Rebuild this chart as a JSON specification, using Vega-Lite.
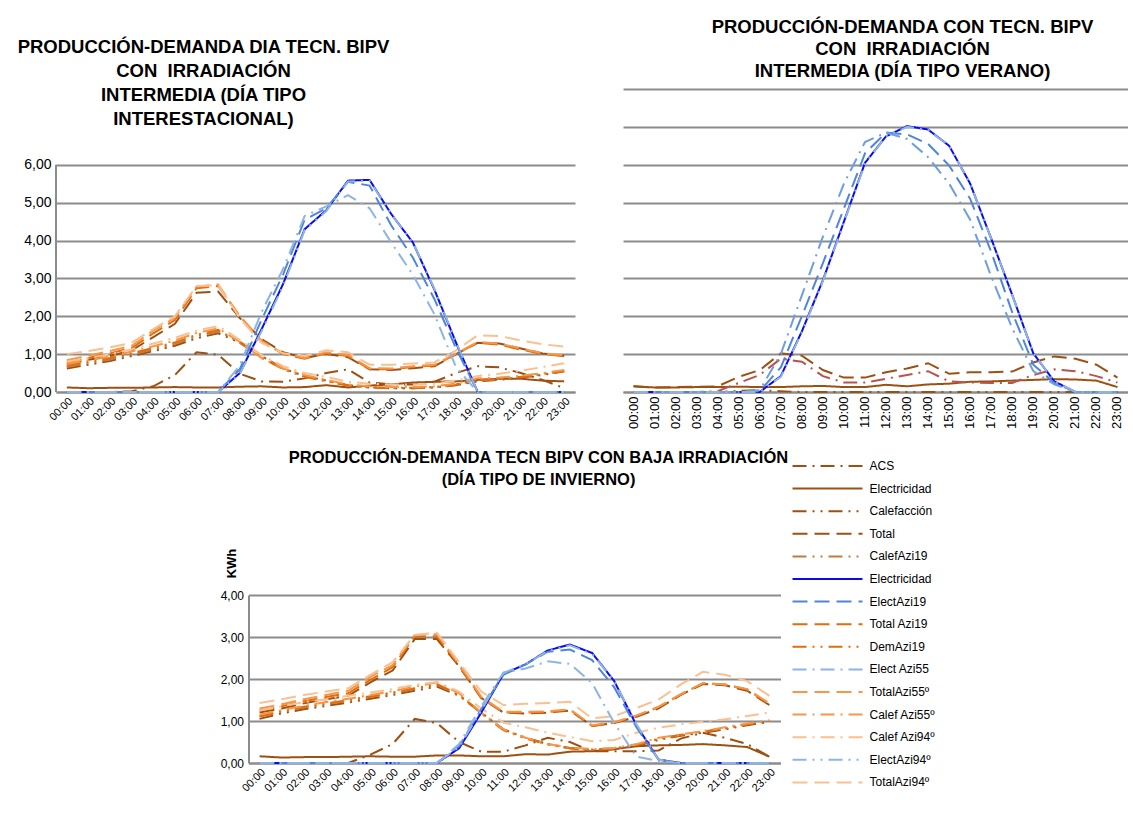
{
"$schema": "https://vega.github.io/schema/vega-lite/v6.json",
"background": "white",
"padding": {"left": 16, "top": 17, "right": 0, "bottom": 0},
"config": {
  "font": "Liberation Sans",
  "view": {"stroke": null},
  "axis": {"labelFont": "Liberation Sans", "labelColor": "#000", "domainColor": "#8c8c8c", "domainWidth": 2, "gridColor": "#8c8c8c", "gridWidth": 2, "ticks": false, "titleFont": "Liberation Sans", "titleColor": "#000"},
  "title": {"font": "Liberation Sans", "fontWeight": "bold", "color": "#000", "anchor": "middle", "frame": "group"},
  "line": {"strokeWidth": 2}
},
"datasets": {
"inter": [
{"s":"ACS","h":0,"v":0},{"s":"ACS","h":1,"v":0},{"s":"ACS","h":2,"v":0},{"s":"ACS","h":3,"v":0.02},{"s":"ACS","h":4,"v":0.15},{"s":"ACS","h":5,"v":0.45},{"s":"ACS","h":6,"v":1.05},{"s":"ACS","h":7,"v":0.98},{"s":"ACS","h":8,"v":0.48},{"s":"ACS","h":9,"v":0.28},{"s":"ACS","h":10,"v":0.27},{"s":"ACS","h":11,"v":0.36},{"s":"ACS","h":12,"v":0.5},{"s":"ACS","h":13,"v":0.6},{"s":"ACS","h":14,"v":0.25},{"s":"ACS","h":15,"v":0.2},{"s":"ACS","h":16,"v":0.2},{"s":"ACS","h":17,"v":0.27},{"s":"ACS","h":18,"v":0.5},{"s":"ACS","h":19,"v":0.68},{"s":"ACS","h":20,"v":0.65},{"s":"ACS","h":21,"v":0.5},{"s":"ACS","h":22,"v":0.32},{"s":"ACS","h":23,"v":0.1},
{"s":"Electricidad","h":0,"v":0.12},{"s":"Electricidad","h":1,"v":0.1},{"s":"Electricidad","h":2,"v":0.11},{"s":"Electricidad","h":3,"v":0.11},{"s":"Electricidad","h":4,"v":0.12},{"s":"Electricidad","h":5,"v":0.13},{"s":"Electricidad","h":6,"v":0.12},{"s":"Electricidad","h":7,"v":0.12},{"s":"Electricidad","h":8,"v":0.14},{"s":"Electricidad","h":9,"v":0.15},{"s":"Electricidad","h":10,"v":0.12},{"s":"Electricidad","h":11,"v":0.13},{"s":"Electricidad","h":12,"v":0.18},{"s":"Electricidad","h":13,"v":0.12},{"s":"Electricidad","h":14,"v":0.17},{"s":"Electricidad","h":15,"v":0.2},{"s":"Electricidad","h":16,"v":0.25},{"s":"Electricidad","h":17,"v":0.27},{"s":"Electricidad","h":18,"v":0.28},{"s":"Electricidad","h":19,"v":0.32},{"s":"Electricidad","h":20,"v":0.35},{"s":"Electricidad","h":21,"v":0.35},{"s":"Electricidad","h":22,"v":0.3},{"s":"Electricidad","h":23,"v":0.28},
{"s":"Calefacción","h":0,"v":0.62},{"s":"Calefacción","h":1,"v":0.72},{"s":"Calefacción","h":2,"v":0.82},{"s":"Calefacción","h":3,"v":0.95},{"s":"Calefacción","h":4,"v":1.08},{"s":"Calefacción","h":5,"v":1.22},{"s":"Calefacción","h":6,"v":1.42},{"s":"Calefacción","h":7,"v":1.55},{"s":"Calefacción","h":8,"v":1.3},{"s":"Calefacción","h":9,"v":0.95},{"s":"Calefacción","h":10,"v":0.62},{"s":"Calefacción","h":11,"v":0.42},{"s":"Calefacción","h":12,"v":0.3},{"s":"Calefacción","h":13,"v":0.18},{"s":"Calefacción","h":14,"v":0.12},{"s":"Calefacción","h":15,"v":0.1},{"s":"Calefacción","h":16,"v":0.1},{"s":"Calefacción","h":17,"v":0.12},{"s":"Calefacción","h":18,"v":0.18},{"s":"Calefacción","h":19,"v":0.28},{"s":"Calefacción","h":20,"v":0.32},{"s":"Calefacción","h":21,"v":0.38},{"s":"Calefacción","h":22,"v":0.45},{"s":"Calefacción","h":23,"v":0.55},
{"s":"Total","h":0,"v":0.72},{"s":"Total","h":1,"v":0.85},{"s":"Total","h":2,"v":0.95},{"s":"Total","h":3,"v":1.1},{"s":"Total","h":4,"v":1.45},{"s":"Total","h":5,"v":1.8},{"s":"Total","h":6,"v":2.62},{"s":"Total","h":7,"v":2.65},{"s":"Total","h":8,"v":1.95},{"s":"Total","h":9,"v":1.4},{"s":"Total","h":10,"v":1.05},{"s":"Total","h":11,"v":0.9},{"s":"Total","h":12,"v":1.0},{"s":"Total","h":13,"v":0.92},{"s":"Total","h":14,"v":0.6},{"s":"Total","h":15,"v":0.58},{"s":"Total","h":16,"v":0.63},{"s":"Total","h":17,"v":0.68},{"s":"Total","h":18,"v":1.0},{"s":"Total","h":19,"v":1.3},{"s":"Total","h":20,"v":1.28},{"s":"Total","h":21,"v":1.15},{"s":"Total","h":22,"v":1.02},{"s":"Total","h":23,"v":0.95},
{"s":"CalefAzi19","h":0,"v":0.66},{"s":"CalefAzi19","h":1,"v":0.76},{"s":"CalefAzi19","h":2,"v":0.86},{"s":"CalefAzi19","h":3,"v":0.99},{"s":"CalefAzi19","h":4,"v":1.12},{"s":"CalefAzi19","h":5,"v":1.27},{"s":"CalefAzi19","h":6,"v":1.47},{"s":"CalefAzi19","h":7,"v":1.6},{"s":"CalefAzi19","h":8,"v":1.33},{"s":"CalefAzi19","h":9,"v":0.95},{"s":"CalefAzi19","h":10,"v":0.62},{"s":"CalefAzi19","h":11,"v":0.42},{"s":"CalefAzi19","h":12,"v":0.3},{"s":"CalefAzi19","h":13,"v":0.18},{"s":"CalefAzi19","h":14,"v":0.12},{"s":"CalefAzi19","h":15,"v":0.1},{"s":"CalefAzi19","h":16,"v":0.1},{"s":"CalefAzi19","h":17,"v":0.12},{"s":"CalefAzi19","h":18,"v":0.19},{"s":"CalefAzi19","h":19,"v":0.3},{"s":"CalefAzi19","h":20,"v":0.33},{"s":"CalefAzi19","h":21,"v":0.39},{"s":"CalefAzi19","h":22,"v":0.47},{"s":"CalefAzi19","h":23,"v":0.56},
{"s":"Total Azi19","h":0,"v":0.78},{"s":"Total Azi19","h":1,"v":0.9},{"s":"Total Azi19","h":2,"v":1.02},{"s":"Total Azi19","h":3,"v":1.16},{"s":"Total Azi19","h":4,"v":1.55},{"s":"Total Azi19","h":5,"v":1.9},{"s":"Total Azi19","h":6,"v":2.74},{"s":"Total Azi19","h":7,"v":2.8},{"s":"Total Azi19","h":8,"v":2.0},{"s":"Total Azi19","h":9,"v":1.35},{"s":"Total Azi19","h":10,"v":1.0},{"s":"Total Azi19","h":11,"v":0.88},{"s":"Total Azi19","h":12,"v":1.02},{"s":"Total Azi19","h":13,"v":0.95},{"s":"Total Azi19","h":14,"v":0.6},{"s":"Total Azi19","h":15,"v":0.6},{"s":"Total Azi19","h":16,"v":0.66},{"s":"Total Azi19","h":17,"v":0.7},{"s":"Total Azi19","h":18,"v":1.0},{"s":"Total Azi19","h":19,"v":1.3},{"s":"Total Azi19","h":20,"v":1.25},{"s":"Total Azi19","h":21,"v":1.12},{"s":"Total Azi19","h":22,"v":1.0},{"s":"Total Azi19","h":23,"v":0.95},
{"s":"DemAzi19","h":0,"v":0.7},{"s":"DemAzi19","h":1,"v":0.8},{"s":"DemAzi19","h":2,"v":0.9},{"s":"DemAzi19","h":3,"v":1.03},{"s":"DemAzi19","h":4,"v":1.16},{"s":"DemAzi19","h":5,"v":1.31},{"s":"DemAzi19","h":6,"v":1.51},{"s":"DemAzi19","h":7,"v":1.64},{"s":"DemAzi19","h":8,"v":1.3},{"s":"DemAzi19","h":9,"v":0.9},{"s":"DemAzi19","h":10,"v":0.6},{"s":"DemAzi19","h":11,"v":0.4},{"s":"DemAzi19","h":12,"v":0.28},{"s":"DemAzi19","h":13,"v":0.17},{"s":"DemAzi19","h":14,"v":0.12},{"s":"DemAzi19","h":15,"v":0.11},{"s":"DemAzi19","h":16,"v":0.11},{"s":"DemAzi19","h":17,"v":0.13},{"s":"DemAzi19","h":18,"v":0.2},{"s":"DemAzi19","h":19,"v":0.32},{"s":"DemAzi19","h":20,"v":0.34},{"s":"DemAzi19","h":21,"v":0.4},{"s":"DemAzi19","h":22,"v":0.48},{"s":"DemAzi19","h":23,"v":0.55},
{"s":"TotalAzi55º","h":0,"v":0.84},{"s":"TotalAzi55º","h":1,"v":0.96},{"s":"TotalAzi55º","h":2,"v":1.08},{"s":"TotalAzi55º","h":3,"v":1.22},{"s":"TotalAzi55º","h":4,"v":1.62},{"s":"TotalAzi55º","h":5,"v":1.96},{"s":"TotalAzi55º","h":6,"v":2.78},{"s":"TotalAzi55º","h":7,"v":2.84},{"s":"TotalAzi55º","h":8,"v":2.0},{"s":"TotalAzi55º","h":9,"v":1.35},{"s":"TotalAzi55º","h":10,"v":1.02},{"s":"TotalAzi55º","h":11,"v":0.9},{"s":"TotalAzi55º","h":12,"v":1.05},{"s":"TotalAzi55º","h":13,"v":0.98},{"s":"TotalAzi55º","h":14,"v":0.63},{"s":"TotalAzi55º","h":15,"v":0.62},{"s":"TotalAzi55º","h":16,"v":0.68},{"s":"TotalAzi55º","h":17,"v":0.72},{"s":"TotalAzi55º","h":18,"v":1.02},{"s":"TotalAzi55º","h":19,"v":1.32},{"s":"TotalAzi55º","h":20,"v":1.28},{"s":"TotalAzi55º","h":21,"v":1.15},{"s":"TotalAzi55º","h":22,"v":1.02},{"s":"TotalAzi55º","h":23,"v":0.97},
{"s":"Calef Azi55º","h":0,"v":0.74},{"s":"Calef Azi55º","h":1,"v":0.84},{"s":"Calef Azi55º","h":2,"v":0.94},{"s":"Calef Azi55º","h":3,"v":1.07},{"s":"Calef Azi55º","h":4,"v":1.21},{"s":"Calef Azi55º","h":5,"v":1.36},{"s":"Calef Azi55º","h":6,"v":1.56},{"s":"Calef Azi55º","h":7,"v":1.68},{"s":"Calef Azi55º","h":8,"v":1.32},{"s":"Calef Azi55º","h":9,"v":0.9},{"s":"Calef Azi55º","h":10,"v":0.62},{"s":"Calef Azi55º","h":11,"v":0.45},{"s":"Calef Azi55º","h":12,"v":0.32},{"s":"Calef Azi55º","h":13,"v":0.2},{"s":"Calef Azi55º","h":14,"v":0.15},{"s":"Calef Azi55º","h":15,"v":0.13},{"s":"Calef Azi55º","h":16,"v":0.13},{"s":"Calef Azi55º","h":17,"v":0.15},{"s":"Calef Azi55º","h":18,"v":0.22},{"s":"Calef Azi55º","h":19,"v":0.36},{"s":"Calef Azi55º","h":20,"v":0.38},{"s":"Calef Azi55º","h":21,"v":0.43},{"s":"Calef Azi55º","h":22,"v":0.5},{"s":"Calef Azi55º","h":23,"v":0.58},
{"s":"Calef Azi94º","h":0,"v":0.8},{"s":"Calef Azi94º","h":1,"v":0.9},{"s":"Calef Azi94º","h":2,"v":1.0},{"s":"Calef Azi94º","h":3,"v":1.13},{"s":"Calef Azi94º","h":4,"v":1.28},{"s":"Calef Azi94º","h":5,"v":1.43},{"s":"Calef Azi94º","h":6,"v":1.62},{"s":"Calef Azi94º","h":7,"v":1.74},{"s":"Calef Azi94º","h":8,"v":1.38},{"s":"Calef Azi94º","h":9,"v":0.98},{"s":"Calef Azi94º","h":10,"v":0.68},{"s":"Calef Azi94º","h":11,"v":0.5},{"s":"Calef Azi94º","h":12,"v":0.4},{"s":"Calef Azi94º","h":13,"v":0.27},{"s":"Calef Azi94º","h":14,"v":0.22},{"s":"Calef Azi94º","h":15,"v":0.2},{"s":"Calef Azi94º","h":16,"v":0.2},{"s":"Calef Azi94º","h":17,"v":0.22},{"s":"Calef Azi94º","h":18,"v":0.3},{"s":"Calef Azi94º","h":19,"v":0.42},{"s":"Calef Azi94º","h":20,"v":0.48},{"s":"Calef Azi94º","h":21,"v":0.56},{"s":"Calef Azi94º","h":22,"v":0.66},{"s":"Calef Azi94º","h":23,"v":0.76},
{"s":"TotalAzi94º","h":0,"v":1.0},{"s":"TotalAzi94º","h":1,"v":1.08},{"s":"TotalAzi94º","h":2,"v":1.18},{"s":"TotalAzi94º","h":3,"v":1.3},{"s":"TotalAzi94º","h":4,"v":1.66},{"s":"TotalAzi94º","h":5,"v":2.0},{"s":"TotalAzi94º","h":6,"v":2.8},{"s":"TotalAzi94º","h":7,"v":2.82},{"s":"TotalAzi94º","h":8,"v":1.95},{"s":"TotalAzi94º","h":9,"v":1.3},{"s":"TotalAzi94º","h":10,"v":1.02},{"s":"TotalAzi94º","h":11,"v":0.96},{"s":"TotalAzi94º","h":12,"v":1.1},{"s":"TotalAzi94º","h":13,"v":1.05},{"s":"TotalAzi94º","h":14,"v":0.72},{"s":"TotalAzi94º","h":15,"v":0.72},{"s":"TotalAzi94º","h":16,"v":0.75},{"s":"TotalAzi94º","h":17,"v":0.78},{"s":"TotalAzi94º","h":18,"v":1.1},{"s":"TotalAzi94º","h":19,"v":1.5},{"s":"TotalAzi94º","h":20,"v":1.48},{"s":"TotalAzi94º","h":21,"v":1.36},{"s":"TotalAzi94º","h":22,"v":1.26},{"s":"TotalAzi94º","h":23,"v":1.2},
{"s":"Electricidad ","h":0,"v":0},{"s":"Electricidad ","h":1,"v":0},{"s":"Electricidad ","h":2,"v":0},{"s":"Electricidad ","h":3,"v":0},{"s":"Electricidad ","h":4,"v":0},{"s":"Electricidad ","h":5,"v":0},{"s":"Electricidad ","h":6,"v":0},{"s":"Electricidad ","h":7,"v":0},{"s":"Electricidad ","h":8,"v":0.5},{"s":"Electricidad ","h":9,"v":1.65},{"s":"Electricidad ","h":10,"v":2.85},{"s":"Electricidad ","h":11,"v":4.3},{"s":"Electricidad ","h":12,"v":4.8},{"s":"Electricidad ","h":13,"v":5.58},{"s":"Electricidad ","h":14,"v":5.6},{"s":"Electricidad ","h":15,"v":4.7},{"s":"Electricidad ","h":16,"v":3.95},{"s":"Electricidad ","h":17,"v":2.7},{"s":"Electricidad ","h":18,"v":1.3},{"s":"Electricidad ","h":19,"v":0},{"s":"Electricidad ","h":20,"v":0},{"s":"Electricidad ","h":21,"v":0},{"s":"Electricidad ","h":22,"v":0},{"s":"Electricidad ","h":23,"v":0},
{"s":"ElectAzi19","h":0,"v":0},{"s":"ElectAzi19","h":1,"v":0},{"s":"ElectAzi19","h":2,"v":0},{"s":"ElectAzi19","h":3,"v":0},{"s":"ElectAzi19","h":4,"v":0},{"s":"ElectAzi19","h":5,"v":0},{"s":"ElectAzi19","h":6,"v":0},{"s":"ElectAzi19","h":7,"v":0},{"s":"ElectAzi19","h":8,"v":0.6},{"s":"ElectAzi19","h":9,"v":1.9},{"s":"ElectAzi19","h":10,"v":3.1},{"s":"ElectAzi19","h":11,"v":4.55},{"s":"ElectAzi19","h":12,"v":4.85},{"s":"ElectAzi19","h":13,"v":5.55},{"s":"ElectAzi19","h":14,"v":5.45},{"s":"ElectAzi19","h":15,"v":4.4},{"s":"ElectAzi19","h":16,"v":3.55},{"s":"ElectAzi19","h":17,"v":2.45},{"s":"ElectAzi19","h":18,"v":1.15},{"s":"ElectAzi19","h":19,"v":0},{"s":"ElectAzi19","h":20,"v":0},{"s":"ElectAzi19","h":21,"v":0},{"s":"ElectAzi19","h":22,"v":0},{"s":"ElectAzi19","h":23,"v":0},
{"s":"Elect Azi55","h":0,"v":0},{"s":"Elect Azi55","h":1,"v":0},{"s":"Elect Azi55","h":2,"v":0},{"s":"Elect Azi55","h":3,"v":0},{"s":"Elect Azi55","h":4,"v":0},{"s":"Elect Azi55","h":5,"v":0},{"s":"Elect Azi55","h":6,"v":0},{"s":"Elect Azi55","h":7,"v":0},{"s":"Elect Azi55","h":8,"v":0.7},{"s":"Elect Azi55","h":9,"v":2.1},{"s":"Elect Azi55","h":10,"v":3.25},{"s":"Elect Azi55","h":11,"v":4.65},{"s":"Elect Azi55","h":12,"v":4.9},{"s":"Elect Azi55","h":13,"v":5.2},{"s":"Elect Azi55","h":14,"v":4.85},{"s":"Elect Azi55","h":15,"v":3.95},{"s":"Elect Azi55","h":16,"v":3.1},{"s":"Elect Azi55","h":17,"v":2.05},{"s":"Elect Azi55","h":18,"v":0.65},{"s":"Elect Azi55","h":19,"v":0},{"s":"Elect Azi55","h":20,"v":0},{"s":"Elect Azi55","h":21,"v":0},{"s":"Elect Azi55","h":22,"v":0},{"s":"Elect Azi55","h":23,"v":0},
{"s":"ElectAzi94º","h":0,"v":0},{"s":"ElectAzi94º","h":1,"v":0},{"s":"ElectAzi94º","h":2,"v":0},{"s":"ElectAzi94º","h":3,"v":0},{"s":"ElectAzi94º","h":4,"v":0},{"s":"ElectAzi94º","h":5,"v":0},{"s":"ElectAzi94º","h":6,"v":0},{"s":"ElectAzi94º","h":7,"v":0},{"s":"ElectAzi94º","h":8,"v":0.48},{"s":"ElectAzi94º","h":9,"v":1.6},{"s":"ElectAzi94º","h":10,"v":2.8},{"s":"ElectAzi94º","h":11,"v":4.28},{"s":"ElectAzi94º","h":12,"v":4.78},{"s":"ElectAzi94º","h":13,"v":5.56},{"s":"ElectAzi94º","h":14,"v":5.58},{"s":"ElectAzi94º","h":15,"v":4.7},{"s":"ElectAzi94º","h":16,"v":3.95},{"s":"ElectAzi94º","h":17,"v":2.72},{"s":"ElectAzi94º","h":18,"v":1.32},{"s":"ElectAzi94º","h":19,"v":0},{"s":"ElectAzi94º","h":20,"v":0},{"s":"ElectAzi94º","h":21,"v":0},{"s":"ElectAzi94º","h":22,"v":0},{"s":"ElectAzi94º","h":23,"v":0}
],
"verano": [
{"s":"Electricidad","h":0,"v":0.15},{"s":"Electricidad","h":1,"v":0.12},{"s":"Electricidad","h":2,"v":0.12},{"s":"Electricidad","h":3,"v":0.13},{"s":"Electricidad","h":4,"v":0.13},{"s":"Electricidad","h":5,"v":0.14},{"s":"Electricidad","h":6,"v":0.13},{"s":"Electricidad","h":7,"v":0.13},{"s":"Electricidad","h":8,"v":0.15},{"s":"Electricidad","h":9,"v":0.16},{"s":"Electricidad","h":10,"v":0.13},{"s":"Electricidad","h":11,"v":0.13},{"s":"Electricidad","h":12,"v":0.19},{"s":"Electricidad","h":13,"v":0.15},{"s":"Electricidad","h":14,"v":0.2},{"s":"Electricidad","h":15,"v":0.22},{"s":"Electricidad","h":16,"v":0.27},{"s":"Electricidad","h":17,"v":0.28},{"s":"Electricidad","h":18,"v":0.3},{"s":"Electricidad","h":19,"v":0.32},{"s":"Electricidad","h":20,"v":0.34},{"s":"Electricidad","h":21,"v":0.33},{"s":"Electricidad","h":22,"v":0.3},{"s":"Electricidad","h":23,"v":0.13},
{"s":"Calefacción","h":0,"v":0},{"s":"Calefacción","h":1,"v":0},{"s":"Calefacción","h":2,"v":0},{"s":"Calefacción","h":3,"v":0},{"s":"Calefacción","h":4,"v":0},{"s":"Calefacción","h":5,"v":0.03},{"s":"Calefacción","h":6,"v":0.05},{"s":"Calefacción","h":7,"v":0.02},{"s":"Calefacción","h":8,"v":0},{"s":"Calefacción","h":9,"v":0},{"s":"Calefacción","h":10,"v":0},{"s":"Calefacción","h":11,"v":0},{"s":"Calefacción","h":12,"v":0},{"s":"Calefacción","h":13,"v":0},{"s":"Calefacción","h":14,"v":0},{"s":"Calefacción","h":15,"v":0},{"s":"Calefacción","h":16,"v":0},{"s":"Calefacción","h":17,"v":0},{"s":"Calefacción","h":18,"v":0},{"s":"Calefacción","h":19,"v":0},{"s":"Calefacción","h":20,"v":0},{"s":"Calefacción","h":21,"v":0},{"s":"Calefacción","h":22,"v":0},{"s":"Calefacción","h":23,"v":0},
{"s":"ACS","h":0,"v":0},{"s":"ACS","h":1,"v":0},{"s":"ACS","h":2,"v":0},{"s":"ACS","h":3,"v":0},{"s":"ACS","h":4,"v":0.02},{"s":"ACS","h":5,"v":0.24},{"s":"ACS","h":6,"v":0.45},{"s":"ACS","h":7,"v":0.88},{"s":"ACS","h":8,"v":0.8},{"s":"ACS","h":9,"v":0.42},{"s":"ACS","h":10,"v":0.25},{"s":"ACS","h":11,"v":0.25},{"s":"ACS","h":12,"v":0.35},{"s":"ACS","h":13,"v":0.45},{"s":"ACS","h":14,"v":0.55},{"s":"ACS","h":15,"v":0.28},{"s":"ACS","h":16,"v":0.25},{"s":"ACS","h":17,"v":0.24},{"s":"ACS","h":18,"v":0.24},{"s":"ACS","h":19,"v":0.45},{"s":"ACS","h":20,"v":0.6},{"s":"ACS","h":21,"v":0.55},{"s":"ACS","h":22,"v":0.42},{"s":"ACS","h":23,"v":0.25},
{"s":"Total","h":0,"v":0.15},{"s":"Total","h":1,"v":0.12},{"s":"Total","h":2,"v":0.13},{"s":"Total","h":3,"v":0.14},{"s":"Total","h":4,"v":0.15},{"s":"Total","h":5,"v":0.4},{"s":"Total","h":6,"v":0.58},{"s":"Total","h":7,"v":1.02},{"s":"Total","h":8,"v":0.96},{"s":"Total","h":9,"v":0.58},{"s":"Total","h":10,"v":0.38},{"s":"Total","h":11,"v":0.38},{"s":"Total","h":12,"v":0.52},{"s":"Total","h":13,"v":0.62},{"s":"Total","h":14,"v":0.76},{"s":"Total","h":15,"v":0.48},{"s":"Total","h":16,"v":0.52},{"s":"Total","h":17,"v":0.52},{"s":"Total","h":18,"v":0.54},{"s":"Total","h":19,"v":0.78},{"s":"Total","h":20,"v":0.94},{"s":"Total","h":21,"v":0.88},{"s":"Total","h":22,"v":0.72},{"s":"Total","h":23,"v":0.38},
{"s":"Electricidad ","h":0,"v":0},{"s":"Electricidad ","h":1,"v":0},{"s":"Electricidad ","h":2,"v":0},{"s":"Electricidad ","h":3,"v":0},{"s":"Electricidad ","h":4,"v":0},{"s":"Electricidad ","h":5,"v":0},{"s":"Electricidad ","h":6,"v":0},{"s":"Electricidad ","h":7,"v":0.42},{"s":"Electricidad ","h":8,"v":1.6},{"s":"Electricidad ","h":9,"v":2.95},{"s":"Electricidad ","h":10,"v":4.5},{"s":"Electricidad ","h":11,"v":6.05},{"s":"Electricidad ","h":12,"v":6.75},{"s":"Electricidad ","h":13,"v":7.02},{"s":"Electricidad ","h":14,"v":6.93},{"s":"Electricidad ","h":15,"v":6.5},{"s":"Electricidad ","h":16,"v":5.5},{"s":"Electricidad ","h":17,"v":4.05},{"s":"Electricidad ","h":18,"v":2.56},{"s":"Electricidad ","h":19,"v":1.02},{"s":"Electricidad ","h":20,"v":0.28},{"s":"Electricidad ","h":21,"v":0},{"s":"Electricidad ","h":22,"v":0},{"s":"Electricidad ","h":23,"v":0},
{"s":"ElectAzi19","h":0,"v":0},{"s":"ElectAzi19","h":1,"v":0},{"s":"ElectAzi19","h":2,"v":0},{"s":"ElectAzi19","h":3,"v":0},{"s":"ElectAzi19","h":4,"v":0},{"s":"ElectAzi19","h":5,"v":0},{"s":"ElectAzi19","h":6,"v":0.02},{"s":"ElectAzi19","h":7,"v":0.65},{"s":"ElectAzi19","h":8,"v":2.0},{"s":"ElectAzi19","h":9,"v":3.4},{"s":"ElectAzi19","h":10,"v":4.85},{"s":"ElectAzi19","h":11,"v":6.3},{"s":"ElectAzi19","h":12,"v":6.85},{"s":"ElectAzi19","h":13,"v":6.8},{"s":"ElectAzi19","h":14,"v":6.55},{"s":"ElectAzi19","h":15,"v":5.98},{"s":"ElectAzi19","h":16,"v":5.1},{"s":"ElectAzi19","h":17,"v":3.7},{"s":"ElectAzi19","h":18,"v":2.1},{"s":"ElectAzi19","h":19,"v":0.72},{"s":"ElectAzi19","h":20,"v":0.24},{"s":"ElectAzi19","h":21,"v":0},{"s":"ElectAzi19","h":22,"v":0},{"s":"ElectAzi19","h":23,"v":0},
{"s":"Elect Azi55","h":0,"v":0},{"s":"Elect Azi55","h":1,"v":0},{"s":"Elect Azi55","h":2,"v":0},{"s":"Elect Azi55","h":3,"v":0},{"s":"Elect Azi55","h":4,"v":0},{"s":"Elect Azi55","h":5,"v":0},{"s":"Elect Azi55","h":6,"v":0.05},{"s":"Elect Azi55","h":7,"v":1.0},{"s":"Elect Azi55","h":8,"v":2.55},{"s":"Elect Azi55","h":9,"v":4.1},{"s":"Elect Azi55","h":10,"v":5.5},{"s":"Elect Azi55","h":11,"v":6.6},{"s":"Elect Azi55","h":12,"v":6.85},{"s":"Elect Azi55","h":13,"v":6.68},{"s":"Elect Azi55","h":14,"v":6.2},{"s":"Elect Azi55","h":15,"v":5.5},{"s":"Elect Azi55","h":16,"v":4.55},{"s":"Elect Azi55","h":17,"v":3.05},{"s":"Elect Azi55","h":18,"v":1.68},{"s":"Elect Azi55","h":19,"v":0.55},{"s":"Elect Azi55","h":20,"v":0.2},{"s":"Elect Azi55","h":21,"v":0},{"s":"Elect Azi55","h":22,"v":0},{"s":"Elect Azi55","h":23,"v":0},
{"s":"ElectAzi94º","h":0,"v":0},{"s":"ElectAzi94º","h":1,"v":0},{"s":"ElectAzi94º","h":2,"v":0},{"s":"ElectAzi94º","h":3,"v":0},{"s":"ElectAzi94º","h":4,"v":0},{"s":"ElectAzi94º","h":5,"v":0},{"s":"ElectAzi94º","h":6,"v":0},{"s":"ElectAzi94º","h":7,"v":0.4},{"s":"ElectAzi94º","h":8,"v":1.58},{"s":"ElectAzi94º","h":9,"v":2.93},{"s":"ElectAzi94º","h":10,"v":4.48},{"s":"ElectAzi94º","h":11,"v":6.03},{"s":"ElectAzi94º","h":12,"v":6.75},{"s":"ElectAzi94º","h":13,"v":7.0},{"s":"ElectAzi94º","h":14,"v":6.92},{"s":"ElectAzi94º","h":15,"v":6.5},{"s":"ElectAzi94º","h":16,"v":5.5},{"s":"ElectAzi94º","h":17,"v":4.05},{"s":"ElectAzi94º","h":18,"v":2.56},{"s":"ElectAzi94º","h":19,"v":1.02},{"s":"ElectAzi94º","h":20,"v":0.28},{"s":"ElectAzi94º","h":21,"v":0},{"s":"ElectAzi94º","h":22,"v":0},{"s":"ElectAzi94º","h":23,"v":0}
],
"invierno": [
{"s":"ACS","h":0,"v":0},{"s":"ACS","h":1,"v":0},{"s":"ACS","h":2,"v":0},{"s":"ACS","h":3,"v":0},{"s":"ACS","h":4,"v":0},{"s":"ACS","h":5,"v":0.2},{"s":"ACS","h":6,"v":0.45},{"s":"ACS","h":7,"v":1.05},{"s":"ACS","h":8,"v":0.95},{"s":"ACS","h":9,"v":0.5},{"s":"ACS","h":10,"v":0.27},{"s":"ACS","h":11,"v":0.27},{"s":"ACS","h":12,"v":0.42},{"s":"ACS","h":13,"v":0.6},{"s":"ACS","h":14,"v":0.5},{"s":"ACS","h":15,"v":0.28},{"s":"ACS","h":16,"v":0.28},{"s":"ACS","h":17,"v":0.28},{"s":"ACS","h":18,"v":0.3},{"s":"ACS","h":19,"v":0.58},{"s":"ACS","h":20,"v":0.72},{"s":"ACS","h":21,"v":0.6},{"s":"ACS","h":22,"v":0.45},{"s":"ACS","h":23,"v":0.15},
{"s":"Electricidad","h":0,"v":0.16},{"s":"Electricidad","h":1,"v":0.13},{"s":"Electricidad","h":2,"v":0.14},{"s":"Electricidad","h":3,"v":0.14},{"s":"Electricidad","h":4,"v":0.15},{"s":"Electricidad","h":5,"v":0.16},{"s":"Electricidad","h":6,"v":0.15},{"s":"Electricidad","h":7,"v":0.15},{"s":"Electricidad","h":8,"v":0.18},{"s":"Electricidad","h":9,"v":0.18},{"s":"Electricidad","h":10,"v":0.16},{"s":"Electricidad","h":11,"v":0.16},{"s":"Electricidad","h":12,"v":0.21},{"s":"Electricidad","h":13,"v":0.2},{"s":"Electricidad","h":14,"v":0.27},{"s":"Electricidad","h":15,"v":0.28},{"s":"Electricidad","h":16,"v":0.33},{"s":"Electricidad","h":17,"v":0.4},{"s":"Electricidad","h":18,"v":0.42},{"s":"Electricidad","h":19,"v":0.43},{"s":"Electricidad","h":20,"v":0.45},{"s":"Electricidad","h":21,"v":0.42},{"s":"Electricidad","h":22,"v":0.38},{"s":"Electricidad","h":23,"v":0.15},
{"s":"Calefacción","h":0,"v":1.05},{"s":"Calefacción","h":1,"v":1.18},{"s":"Calefacción","h":2,"v":1.28},{"s":"Calefacción","h":3,"v":1.36},{"s":"Calefacción","h":4,"v":1.44},{"s":"Calefacción","h":5,"v":1.53},{"s":"Calefacción","h":6,"v":1.62},{"s":"Calefacción","h":7,"v":1.72},{"s":"Calefacción","h":8,"v":1.82},{"s":"Calefacción","h":9,"v":1.6},{"s":"Calefacción","h":10,"v":1.2},{"s":"Calefacción","h":11,"v":0.8},{"s":"Calefacción","h":12,"v":0.6},{"s":"Calefacción","h":13,"v":0.45},{"s":"Calefacción","h":14,"v":0.35},{"s":"Calefacción","h":15,"v":0.3},{"s":"Calefacción","h":16,"v":0.33},{"s":"Calefacción","h":17,"v":0.4},{"s":"Calefacción","h":18,"v":0.55},{"s":"Calefacción","h":19,"v":0.65},{"s":"Calefacción","h":20,"v":0.72},{"s":"Calefacción","h":21,"v":0.8},{"s":"Calefacción","h":22,"v":0.9},{"s":"Calefacción","h":23,"v":0.98},
{"s":"Total","h":0,"v":1.2},{"s":"Total","h":1,"v":1.3},{"s":"Total","h":2,"v":1.42},{"s":"Total","h":3,"v":1.52},{"s":"Total","h":4,"v":1.6},{"s":"Total","h":5,"v":1.92},{"s":"Total","h":6,"v":2.2},{"s":"Total","h":7,"v":2.95},{"s":"Total","h":8,"v":2.95},{"s":"Total","h":9,"v":2.3},{"s":"Total","h":10,"v":1.55},{"s":"Total","h":11,"v":1.2},{"s":"Total","h":12,"v":1.18},{"s":"Total","h":13,"v":1.2},{"s":"Total","h":14,"v":1.25},{"s":"Total","h":15,"v":0.88},{"s":"Total","h":16,"v":0.95},{"s":"Total","h":17,"v":1.1},{"s":"Total","h":18,"v":1.3},{"s":"Total","h":19,"v":1.62},{"s":"Total","h":20,"v":1.88},{"s":"Total","h":21,"v":1.85},{"s":"Total","h":22,"v":1.72},{"s":"Total","h":23,"v":1.38},
{"s":"CalefAzi19","h":0,"v":1.1},{"s":"CalefAzi19","h":1,"v":1.22},{"s":"CalefAzi19","h":2,"v":1.32},{"s":"CalefAzi19","h":3,"v":1.4},{"s":"CalefAzi19","h":4,"v":1.48},{"s":"CalefAzi19","h":5,"v":1.57},{"s":"CalefAzi19","h":6,"v":1.66},{"s":"CalefAzi19","h":7,"v":1.76},{"s":"CalefAzi19","h":8,"v":1.86},{"s":"CalefAzi19","h":9,"v":1.62},{"s":"CalefAzi19","h":10,"v":1.2},{"s":"CalefAzi19","h":11,"v":0.8},{"s":"CalefAzi19","h":12,"v":0.6},{"s":"CalefAzi19","h":13,"v":0.45},{"s":"CalefAzi19","h":14,"v":0.36},{"s":"CalefAzi19","h":15,"v":0.31},{"s":"CalefAzi19","h":16,"v":0.34},{"s":"CalefAzi19","h":17,"v":0.42},{"s":"CalefAzi19","h":18,"v":0.57},{"s":"CalefAzi19","h":19,"v":0.66},{"s":"CalefAzi19","h":20,"v":0.74},{"s":"CalefAzi19","h":21,"v":0.82},{"s":"CalefAzi19","h":22,"v":0.92},{"s":"CalefAzi19","h":23,"v":1.0},
{"s":"Total Azi19","h":0,"v":1.25},{"s":"Total Azi19","h":1,"v":1.35},{"s":"Total Azi19","h":2,"v":1.47},{"s":"Total Azi19","h":3,"v":1.57},{"s":"Total Azi19","h":4,"v":1.66},{"s":"Total Azi19","h":5,"v":1.98},{"s":"Total Azi19","h":6,"v":2.28},{"s":"Total Azi19","h":7,"v":3.02},{"s":"Total Azi19","h":8,"v":3.02},{"s":"Total Azi19","h":9,"v":2.32},{"s":"Total Azi19","h":10,"v":1.55},{"s":"Total Azi19","h":11,"v":1.2},{"s":"Total Azi19","h":12,"v":1.2},{"s":"Total Azi19","h":13,"v":1.21},{"s":"Total Azi19","h":14,"v":1.27},{"s":"Total Azi19","h":15,"v":0.88},{"s":"Total Azi19","h":16,"v":0.96},{"s":"Total Azi19","h":17,"v":1.12},{"s":"Total Azi19","h":18,"v":1.33},{"s":"Total Azi19","h":19,"v":1.63},{"s":"Total Azi19","h":20,"v":1.9},{"s":"Total Azi19","h":21,"v":1.87},{"s":"Total Azi19","h":22,"v":1.75},{"s":"Total Azi19","h":23,"v":1.4},
{"s":"DemAzi19","h":0,"v":1.12},{"s":"DemAzi19","h":1,"v":1.24},{"s":"DemAzi19","h":2,"v":1.34},{"s":"DemAzi19","h":3,"v":1.42},{"s":"DemAzi19","h":4,"v":1.5},{"s":"DemAzi19","h":5,"v":1.59},{"s":"DemAzi19","h":6,"v":1.68},{"s":"DemAzi19","h":7,"v":1.78},{"s":"DemAzi19","h":8,"v":1.88},{"s":"DemAzi19","h":9,"v":1.63},{"s":"DemAzi19","h":10,"v":1.18},{"s":"DemAzi19","h":11,"v":0.78},{"s":"DemAzi19","h":12,"v":0.58},{"s":"DemAzi19","h":13,"v":0.44},{"s":"DemAzi19","h":14,"v":0.35},{"s":"DemAzi19","h":15,"v":0.32},{"s":"DemAzi19","h":16,"v":0.35},{"s":"DemAzi19","h":17,"v":0.43},{"s":"DemAzi19","h":18,"v":0.58},{"s":"DemAzi19","h":19,"v":0.67},{"s":"DemAzi19","h":20,"v":0.75},{"s":"DemAzi19","h":21,"v":0.83},{"s":"DemAzi19","h":22,"v":0.93},{"s":"DemAzi19","h":23,"v":1.0},
{"s":"TotalAzi55º","h":0,"v":1.3},{"s":"TotalAzi55º","h":1,"v":1.4},{"s":"TotalAzi55º","h":2,"v":1.52},{"s":"TotalAzi55º","h":3,"v":1.62},{"s":"TotalAzi55º","h":4,"v":1.72},{"s":"TotalAzi55º","h":5,"v":2.05},{"s":"TotalAzi55º","h":6,"v":2.33},{"s":"TotalAzi55º","h":7,"v":3.05},{"s":"TotalAzi55º","h":8,"v":3.07},{"s":"TotalAzi55º","h":9,"v":2.35},{"s":"TotalAzi55º","h":10,"v":1.58},{"s":"TotalAzi55º","h":11,"v":1.22},{"s":"TotalAzi55º","h":12,"v":1.22},{"s":"TotalAzi55º","h":13,"v":1.23},{"s":"TotalAzi55º","h":14,"v":1.28},{"s":"TotalAzi55º","h":15,"v":0.9},{"s":"TotalAzi55º","h":16,"v":0.97},{"s":"TotalAzi55º","h":17,"v":1.13},{"s":"TotalAzi55º","h":18,"v":1.34},{"s":"TotalAzi55º","h":19,"v":1.64},{"s":"TotalAzi55º","h":20,"v":1.9},{"s":"TotalAzi55º","h":21,"v":1.87},{"s":"TotalAzi55º","h":22,"v":1.76},{"s":"TotalAzi55º","h":23,"v":1.42},
{"s":"Calef Azi55º","h":0,"v":1.15},{"s":"Calef Azi55º","h":1,"v":1.26},{"s":"Calef Azi55º","h":2,"v":1.36},{"s":"Calef Azi55º","h":3,"v":1.45},{"s":"Calef Azi55º","h":4,"v":1.53},{"s":"Calef Azi55º","h":5,"v":1.62},{"s":"Calef Azi55º","h":6,"v":1.71},{"s":"Calef Azi55º","h":7,"v":1.82},{"s":"Calef Azi55º","h":8,"v":1.92},{"s":"Calef Azi55º","h":9,"v":1.66},{"s":"Calef Azi55º","h":10,"v":1.2},{"s":"Calef Azi55º","h":11,"v":0.8},{"s":"Calef Azi55º","h":12,"v":0.6},{"s":"Calef Azi55º","h":13,"v":0.45},{"s":"Calef Azi55º","h":14,"v":0.37},{"s":"Calef Azi55º","h":15,"v":0.33},{"s":"Calef Azi55º","h":16,"v":0.36},{"s":"Calef Azi55º","h":17,"v":0.45},{"s":"Calef Azi55º","h":18,"v":0.6},{"s":"Calef Azi55º","h":19,"v":0.68},{"s":"Calef Azi55º","h":20,"v":0.76},{"s":"Calef Azi55º","h":21,"v":0.85},{"s":"Calef Azi55º","h":22,"v":0.94},{"s":"Calef Azi55º","h":23,"v":1.02},
{"s":"Calef Azi94º","h":0,"v":1.25},{"s":"Calef Azi94º","h":1,"v":1.35},{"s":"Calef Azi94º","h":2,"v":1.45},{"s":"Calef Azi94º","h":3,"v":1.52},{"s":"Calef Azi94º","h":4,"v":1.6},{"s":"Calef Azi94º","h":5,"v":1.68},{"s":"Calef Azi94º","h":6,"v":1.76},{"s":"Calef Azi94º","h":7,"v":1.86},{"s":"Calef Azi94º","h":8,"v":1.93},{"s":"Calef Azi94º","h":9,"v":1.7},{"s":"Calef Azi94º","h":10,"v":1.3},{"s":"Calef Azi94º","h":11,"v":0.96},{"s":"Calef Azi94º","h":12,"v":0.85},{"s":"Calef Azi94º","h":13,"v":0.72},{"s":"Calef Azi94º","h":14,"v":0.62},{"s":"Calef Azi94º","h":15,"v":0.52},{"s":"Calef Azi94º","h":16,"v":0.55},{"s":"Calef Azi94º","h":17,"v":0.72},{"s":"Calef Azi94º","h":18,"v":0.84},{"s":"Calef Azi94º","h":19,"v":0.92},{"s":"Calef Azi94º","h":20,"v":0.98},{"s":"Calef Azi94º","h":21,"v":1.04},{"s":"Calef Azi94º","h":22,"v":1.12},{"s":"Calef Azi94º","h":23,"v":1.2},
{"s":"TotalAzi94º","h":0,"v":1.43},{"s":"TotalAzi94º","h":1,"v":1.52},{"s":"TotalAzi94º","h":2,"v":1.62},{"s":"TotalAzi94º","h":3,"v":1.7},{"s":"TotalAzi94º","h":4,"v":1.78},{"s":"TotalAzi94º","h":5,"v":2.1},{"s":"TotalAzi94º","h":6,"v":2.4},{"s":"TotalAzi94º","h":7,"v":3.05},{"s":"TotalAzi94º","h":8,"v":3.1},{"s":"TotalAzi94º","h":9,"v":2.4},{"s":"TotalAzi94º","h":10,"v":1.7},{"s":"TotalAzi94º","h":11,"v":1.38},{"s":"TotalAzi94º","h":12,"v":1.41},{"s":"TotalAzi94º","h":13,"v":1.43},{"s":"TotalAzi94º","h":14,"v":1.46},{"s":"TotalAzi94º","h":15,"v":1.06},{"s":"TotalAzi94º","h":16,"v":1.12},{"s":"TotalAzi94º","h":17,"v":1.31},{"s":"TotalAzi94º","h":18,"v":1.51},{"s":"TotalAzi94º","h":19,"v":1.87},{"s":"TotalAzi94º","h":20,"v":2.17},{"s":"TotalAzi94º","h":21,"v":2.1},{"s":"TotalAzi94º","h":22,"v":1.95},{"s":"TotalAzi94º","h":23,"v":1.6},
{"s":"Electricidad ","h":0,"v":0},{"s":"Electricidad ","h":1,"v":0},{"s":"Electricidad ","h":2,"v":0},{"s":"Electricidad ","h":3,"v":0},{"s":"Electricidad ","h":4,"v":0},{"s":"Electricidad ","h":5,"v":0},{"s":"Electricidad ","h":6,"v":0},{"s":"Electricidad ","h":7,"v":0},{"s":"Electricidad ","h":8,"v":0},{"s":"Electricidad ","h":9,"v":0.35},{"s":"Electricidad ","h":10,"v":1.2},{"s":"Electricidad ","h":11,"v":2.12},{"s":"Electricidad ","h":12,"v":2.35},{"s":"Electricidad ","h":13,"v":2.68},{"s":"Electricidad ","h":14,"v":2.82},{"s":"Electricidad ","h":15,"v":2.62},{"s":"Electricidad ","h":16,"v":1.95},{"s":"Electricidad ","h":17,"v":0.9},{"s":"Electricidad ","h":18,"v":0.08},{"s":"Electricidad ","h":19,"v":0},{"s":"Electricidad ","h":20,"v":0},{"s":"Electricidad ","h":21,"v":0},{"s":"Electricidad ","h":22,"v":0},{"s":"Electricidad ","h":23,"v":0},
{"s":"ElectAzi19","h":0,"v":0},{"s":"ElectAzi19","h":1,"v":0},{"s":"ElectAzi19","h":2,"v":0},{"s":"ElectAzi19","h":3,"v":0},{"s":"ElectAzi19","h":4,"v":0},{"s":"ElectAzi19","h":5,"v":0},{"s":"ElectAzi19","h":6,"v":0},{"s":"ElectAzi19","h":7,"v":0},{"s":"ElectAzi19","h":8,"v":0},{"s":"ElectAzi19","h":9,"v":0.4},{"s":"ElectAzi19","h":10,"v":1.28},{"s":"ElectAzi19","h":11,"v":2.1},{"s":"ElectAzi19","h":12,"v":2.35},{"s":"ElectAzi19","h":13,"v":2.65},{"s":"ElectAzi19","h":14,"v":2.7},{"s":"ElectAzi19","h":15,"v":2.45},{"s":"ElectAzi19","h":16,"v":1.8},{"s":"ElectAzi19","h":17,"v":0.85},{"s":"ElectAzi19","h":18,"v":0.08},{"s":"ElectAzi19","h":19,"v":0},{"s":"ElectAzi19","h":20,"v":0},{"s":"ElectAzi19","h":21,"v":0},{"s":"ElectAzi19","h":22,"v":0},{"s":"ElectAzi19","h":23,"v":0},
{"s":"Elect Azi55","h":0,"v":0},{"s":"Elect Azi55","h":1,"v":0},{"s":"Elect Azi55","h":2,"v":0},{"s":"Elect Azi55","h":3,"v":0},{"s":"Elect Azi55","h":4,"v":0},{"s":"Elect Azi55","h":5,"v":0},{"s":"Elect Azi55","h":6,"v":0},{"s":"Elect Azi55","h":7,"v":0},{"s":"Elect Azi55","h":8,"v":0},{"s":"Elect Azi55","h":9,"v":0.45},{"s":"Elect Azi55","h":10,"v":1.35},{"s":"Elect Azi55","h":11,"v":2.15},{"s":"Elect Azi55","h":12,"v":2.25},{"s":"Elect Azi55","h":13,"v":2.42},{"s":"Elect Azi55","h":14,"v":2.36},{"s":"Elect Azi55","h":15,"v":1.9},{"s":"Elect Azi55","h":16,"v":0.95},{"s":"Elect Azi55","h":17,"v":0.15},{"s":"Elect Azi55","h":18,"v":0.05},{"s":"Elect Azi55","h":19,"v":0},{"s":"Elect Azi55","h":20,"v":0},{"s":"Elect Azi55","h":21,"v":0},{"s":"Elect Azi55","h":22,"v":0},{"s":"Elect Azi55","h":23,"v":0},
{"s":"ElectAzi94º","h":0,"v":0},{"s":"ElectAzi94º","h":1,"v":0},{"s":"ElectAzi94º","h":2,"v":0},{"s":"ElectAzi94º","h":3,"v":0},{"s":"ElectAzi94º","h":4,"v":0},{"s":"ElectAzi94º","h":5,"v":0},{"s":"ElectAzi94º","h":6,"v":0},{"s":"ElectAzi94º","h":7,"v":0},{"s":"ElectAzi94º","h":8,"v":0},{"s":"ElectAzi94º","h":9,"v":0.38},{"s":"ElectAzi94º","h":10,"v":1.25},{"s":"ElectAzi94º","h":11,"v":2.15},{"s":"ElectAzi94º","h":12,"v":2.35},{"s":"ElectAzi94º","h":13,"v":2.67},{"s":"ElectAzi94º","h":14,"v":2.8},{"s":"ElectAzi94º","h":15,"v":2.6},{"s":"ElectAzi94º","h":16,"v":1.95},{"s":"ElectAzi94º","h":17,"v":0.92},{"s":"ElectAzi94º","h":18,"v":0.08},{"s":"ElectAzi94º","h":19,"v":0},{"s":"ElectAzi94º","h":20,"v":0},{"s":"ElectAzi94º","h":21,"v":0},{"s":"ElectAzi94º","h":22,"v":0},{"s":"ElectAzi94º","h":23,"v":0}
],
"leftline": [{"h":0,"y0":0,"y1":6}]
},
"vconcat": [
 {
  "hconcat": [
   {
    "width": 519, "height": 303,
    "title": {"text": ["PRODUCCIÓN-DEMANDA DIA TECN. BIPV", "CON \u00a0IRRADIACIÓN", "INTERMEDIA (DÍA TIPO", "INTERESTACIONAL)"], "fontSize": 18.5, "lineHeight": 24, "offset": 0, "dx": -112, "dy": 39},
    "layer": [
     {
      "data": {"name": "inter"},
      "mark": {"type": "line", "strokeWidth": 2},
      "encoding": {
       "x": {"field": "h", "type": "ordinal", "scale": {"type": "band", "paddingInner": 0, "paddingOuter": 0}, "axis": {"title": null, "labelAngle": -45, "labelFontSize": 11, "labelPadding": 3, "labelExpr": "(datum.value < 10 ? '0' : '') + datum.value + ':00'"}},
       "y": {"field": "v", "type": "quantitative", "scale": {"domain": [0, 8]}, "axis": {"title": null, "values": [0, 1, 2, 3, 4, 5, 6], "domain": false, "labelFontSize": 14, "labelPadding": 5, "labelExpr": "replace(format(datum.value, '.2f'), '.', ',')"}},
       "color": {"field": "s", "type": "nominal", "legend": null, "scale": {"domain": ["ACS","Electricidad","Calefacción","Total","CalefAzi19","Electricidad ","ElectAzi19","Total Azi19","DemAzi19","Elect Azi55","TotalAzi55º","Calef Azi55º","Calef Azi94º","ElectAzi94º","TotalAzi94º"], "range": ["#9c5012","#9c5012","#9c5012","#9c5012","#c47a3e","#0a0af0","#4f86d8","#e46c0a","#e46c0a","#8eb4e3","#f79646","#f79646","#fac090","#8eb4e3","#fac090"]}},
       "strokeDash": {"field": "s", "type": "nominal", "legend": null, "scale": {"domain": ["ACS","Electricidad","Calefacción","Total","CalefAzi19","Electricidad ","ElectAzi19","Total Azi19","DemAzi19","Elect Azi55","TotalAzi55º","Calef Azi55º","Calef Azi94º","ElectAzi94º","TotalAzi94º"], "range": [[14,6,2,6],[1,0],[14,6,2,6,2,6],[15,7],[14,6,2,6,2,6],[1,0],[15,7],[15,7],[14,6,2,6,2,6],[14,6,2,6],[15,7],[14,6,2,6],[14,6,2,6],[14,6,2,6,2,6],[15,7]]}}
      }
     },
     {
      "data": {"name": "leftline"},
      "mark": {"type": "rule", "color": "#8c8c8c", "strokeWidth": 2},
      "encoding": {
       "x": {"field": "h", "type": "ordinal", "bandPosition": 0, "title": null},
       "y": {"field": "y0", "type": "quantitative", "title": null},
       "y2": {"field": "y1"}
      }
     }
    ]
   },
   {
    "width": 505, "height": 303,
    "title": {"text": ["PRODUCCIÓN-DEMANDA CON TECN. BIPV", "CON \u00a0IRRADIACIÓN", "INTERMEDIA (DÍA TIPO VERANO)"], "fontSize": 18.5, "lineHeight": 22, "offset": 9, "dx": 27},
    "data": {"name": "verano"},
    "mark": {"type": "line", "strokeWidth": 2},
    "encoding": {
     "x": {"field": "h", "type": "ordinal", "scale": {"type": "band", "paddingInner": 0, "paddingOuter": 0}, "axis": {"title": null, "labelAngle": -90, "labelFontSize": 13, "labelPadding": 4, "labelExpr": "(datum.value < 10 ? '0' : '') + datum.value + ':00'"}},
     "y": {"field": "v", "type": "quantitative", "scale": {"domain": [0, 8]}, "axis": {"title": null, "values": [0, 1, 2, 3, 4, 5, 6, 7, 8], "domain": false, "labels": false}},
     "color": {"field": "s", "type": "nominal", "legend": null, "scale": {"domain": ["ACS","Electricidad","Calefacción","Total","Electricidad ","ElectAzi19","Elect Azi55","ElectAzi94º"], "range": ["#b9534f","#9c5012","#9c5012","#9c5012","#0a0af0","#4f86d8","#6d9ee0","#8eb4e3"]}},
     "strokeDash": {"field": "s", "type": "nominal", "legend": null, "scale": {"domain": ["ACS","Electricidad","Calefacción","Total","Electricidad ","ElectAzi19","Elect Azi55","ElectAzi94º"], "range": [[14,6,2,6],[1,0],[14,6,2,6,2,6],[15,7],[1,0],[15,7],[14,6,2,6],[14,6,2,6,2,6]]}}
    }
   }
  ],
  "spacing": 48,
  "resolve": {"scale": {"color": "independent", "strokeDash": "independent", "x": "independent", "y": "independent"}}
 },
 {
  "width": 532, "height": 168,
  "title": {"text": ["PRODUCCIÓN-DEMANDA TECN BIPV CON BAJA IRRADIACIÓN", "(DÍA TIPO DE INVIERNO)"], "fontSize": 16.5, "lineHeight": 22, "offset": -30, "dx": 24},
  "data": {"name": "invierno"},
  "mark": {"type": "line", "strokeWidth": 2},
  "encoding": {
   "x": {"field": "h", "type": "ordinal", "scale": {"type": "band", "paddingInner": 0, "paddingOuter": 0}, "axis": {"title": null, "labelAngle": -45, "labelFontSize": 11, "labelPadding": 3, "labelExpr": "(datum.value < 10 ? '0' : '') + datum.value + ':00'"}},
   "y": {"field": "v", "type": "quantitative", "scale": {"domain": [0, 4]}, "axis": {"title": "KWh", "titleFontSize": 13, "titleFontWeight": "bold", "titleX": -17, "titleY": -32, "titleAngle": 270, "titleAlign": "center", "titleBaseline": "middle", "values": [0, 1, 2, 3, 4], "domain": true, "labelFontSize": 12, "labelPadding": 5, "labelExpr": "replace(format(datum.value, '.2f'), '.', ',')"}},
   "color": {"field": "s", "type": "nominal", "scale": {"domain": ["ACS","Electricidad","Calefacción","Total","CalefAzi19","Electricidad ","ElectAzi19","Total Azi19","DemAzi19","Elect Azi55","TotalAzi55º","Calef Azi55º","Calef Azi94º","ElectAzi94º","TotalAzi94º"], "range": ["#9c5012","#9c5012","#9c5012","#9c5012","#c47a3e","#0a0af0","#4f86d8","#e46c0a","#e46c0a","#8eb4e3","#f79646","#f79646","#fac090","#8eb4e3","#fac090"]},
     "legend": {"orient": "none", "legendX": 543, "legendY": -137, "title": null, "symbolType": "stroke", "symbolSize": 4900, "symbolStrokeWidth": 2, "clipHeight": 16, "rowPadding": 6.6, "labelFontSize": 12, "labelFont": "Liberation Sans", "labelColor": "#000", "labelOffset": 6}},
   "strokeDash": {"field": "s", "type": "nominal", "scale": {"domain": ["ACS","Electricidad","Calefacción","Total","CalefAzi19","Electricidad ","ElectAzi19","Total Azi19","DemAzi19","Elect Azi55","TotalAzi55º","Calef Azi55º","Calef Azi94º","ElectAzi94º","TotalAzi94º"], "range": [[14,6,2,6],[1,0],[14,6,2,6,2,6],[15,7],[14,6,2,6,2,6],[1,0],[15,7],[15,7],[14,6,2,6,2,6],[14,6,2,6],[15,7],[14,6,2,6],[14,6,2,6],[14,6,2,6,2,6],[15,7]]},
     "legend": {"orient": "none", "legendX": 543, "legendY": -137, "title": null, "symbolType": "stroke", "symbolSize": 4900, "symbolStrokeWidth": 2, "clipHeight": 16, "rowPadding": 6.6, "labelFontSize": 12, "labelFont": "Liberation Sans", "labelColor": "#000", "labelOffset": 6}}
  }
 }
],
"spacing": 20,
"center": true,
"resolve": {"scale": {"color": "independent", "strokeDash": "independent", "x": "independent", "y": "independent"}}
}
